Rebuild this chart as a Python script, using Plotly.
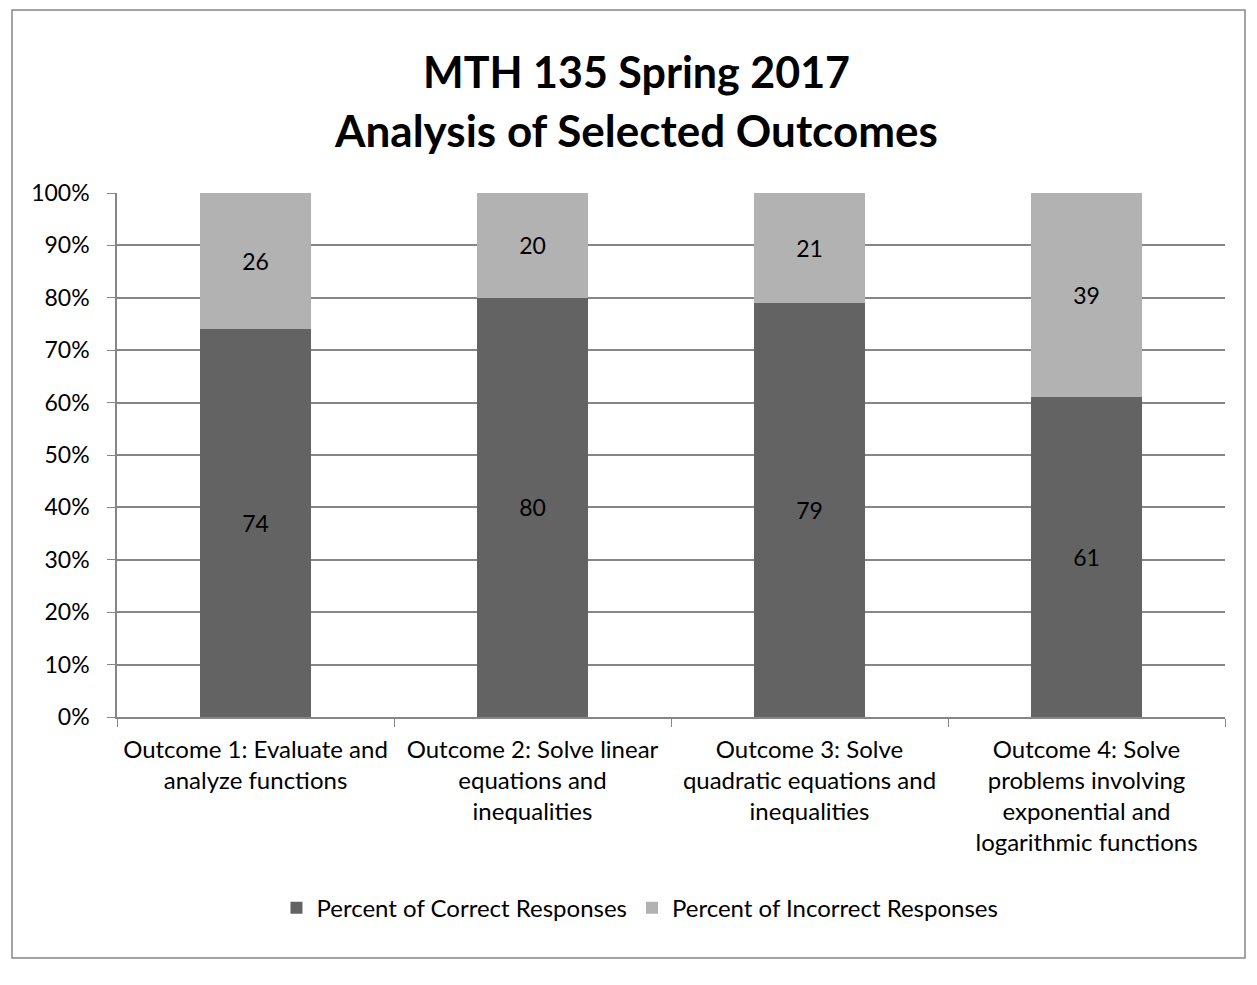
import plotly.graph_objects as go

categories = [
    "Outcome 1: Evaluate and<br>analyze functions",
    "Outcome 2: Solve linear<br>equations and<br>inequalities",
    "Outcome 3: Solve<br>quadratic equations and<br>inequalities",
    "Outcome 4: Solve<br>problems involving<br>exponential and<br>logarithmic functions",
]
correct = [74, 80, 79, 61]
incorrect = [26, 20, 21, 39]
series_names = ["Percent of Correct Responses", "Percent of Incorrect Responses"]
title_lines = ["MTH 135 Spring 2017", "Analysis of Selected Outcomes"]
ytick_vals = [0, 10, 20, 30, 40, 50, 60, 70, 80, 90, 100]
ytick_text = [f"{v}%" for v in ytick_vals]

FONT = "Lato, Carlito, Calibri, sans-serif"

fig = go.Figure()
fig.add_trace(go.Bar(
    x=categories, y=correct, name=series_names[0],
    marker=dict(color="#636363", line=dict(width=0)),
    text=[str(v) for v in correct], textposition="inside",
    insidetextanchor="middle", textangle=0,
    textfont=dict(color="#000000", size=23, family=FONT),
))
fig.add_trace(go.Bar(
    x=categories, y=incorrect, name=series_names[1],
    marker=dict(color="#b2b2b2", line=dict(width=0)),
    text=[str(v) for v in incorrect], textposition="inside",
    insidetextanchor="middle", textangle=0,
    textfont=dict(color="#000000", size=23, family=FONT),
))

fig.update_layout(
    width=1257, height=985,
    barmode="stack", bargap=0.6,
    plot_bgcolor="white", paper_bgcolor="white",
    margin=dict(l=117, r=32, t=193, b=268),
    font=dict(family=FONT, size=23, color="#000000"),
    showlegend=True,
    legend=dict(orientation="h", x=0.472, xanchor="center", y=-0.365, yanchor="middle",
                font=dict(size=24, family=FONT), traceorder="normal",
                itemsizing="constant", itemwidth=30, bgcolor="rgba(0,0,0,0)"),
    uniformtext=dict(minsize=23, mode="show"),
)
fig.update_yaxes(
    range=[0, 100], tickvals=ytick_vals, ticktext=ytick_text,
    showgrid=True, gridcolor="#868686", gridwidth=1.5,
    showline=True, linecolor="#868686", linewidth=1.5,
    ticks="outside", ticklen=8, tickcolor="#868686", ticklabelstandoff=13,
    tickfont=dict(size=23, family=FONT), zeroline=False,
)
fig.update_xaxes(
    tickson="boundaries", ticks="outside", ticklen=8, tickcolor="#868686",
    showline=True, linecolor="#868686", linewidth=1.5, ticklabelstandoff=10,
    showgrid=False, tickfont=dict(size=24, family=FONT),
)

# Title lines
fig.add_annotation(text=f"<b>{title_lines[0]}</b>", x=0.5, y=72, xref="paper", yref="paper",
                   showarrow=False, font=dict(size=43, family=FONT))
fig.add_annotation(text=f"<b>{title_lines[1]}</b>", x=0.5, y=130, xref="paper", yref="paper",
                   showarrow=False, font=dict(size=44, family=FONT))
# convert pixel y to paper coords
plot_h = 985 - 193 - 268
for ann in fig.layout.annotations:
    py = ann.y
    ann.y = (985 - 268 - py) / plot_h
    ann.yanchor = "middle"
    ann.x = (636 - 117) / (1257 - 117 - 32)

# chart border
fig.add_shape(type="rect", xref="paper", yref="paper",
              x0=(12 - 117) / (1257 - 117 - 32), x1=(1245 - 117) / (1257 - 117 - 32),
              y0=(985 - 268 - 958) / plot_h, y1=(985 - 268 - 10) / plot_h,
              line=dict(color="#868686", width=1.5), fillcolor="rgba(0,0,0,0)", layer="below")

fig.write_html("out.html")
